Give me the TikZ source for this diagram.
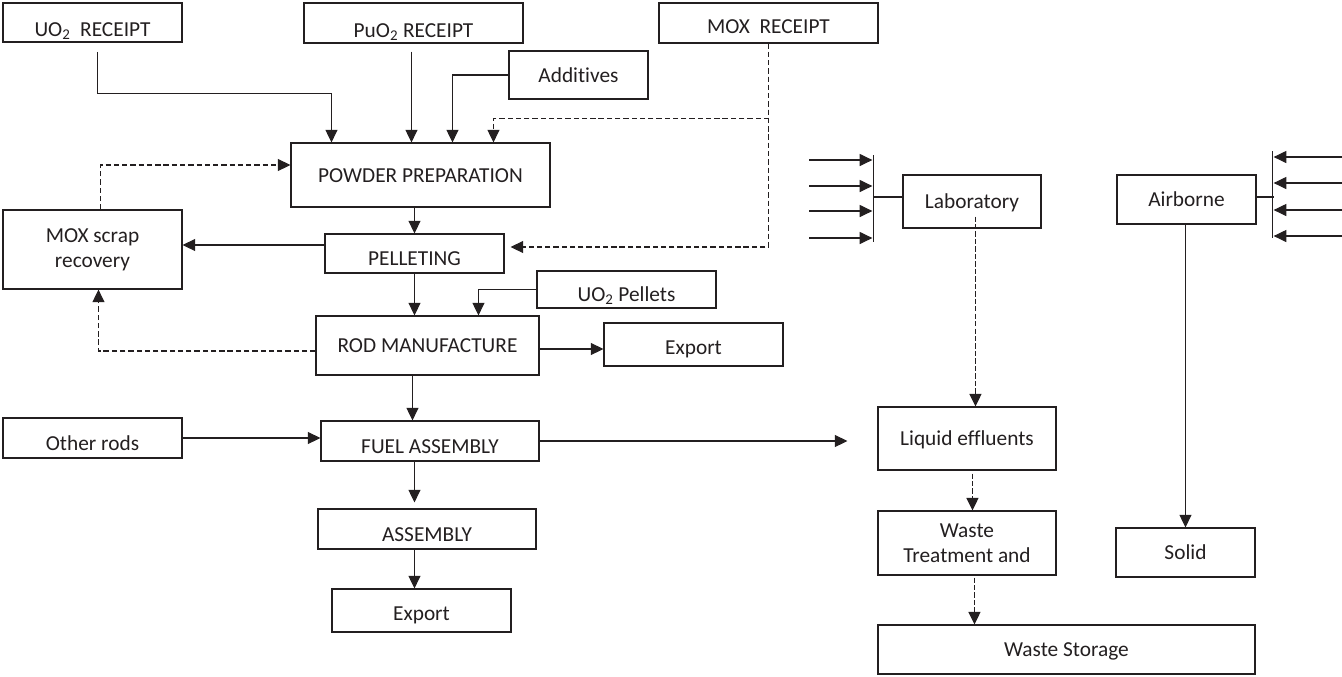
\documentclass[tikz,border=0pt]{standalone}
\usepackage{fontspec}
\setmainfont{Carlito}[Ligatures=NoCommon]
\usepackage{tikz}
\usetikzlibrary{arrows.meta,calc,positioning}
\definecolor{Ink}{HTML}{231F20}

\begin{document}
\begin{tikzpicture}[x=0.75pt, y=-0.75pt, >={Triangle[length=9.5pt,width=9pt]},
    cell/.style n args={4}{minimum width={(#3-#1)*0.75pt}, minimum height={(#4-#2)*0.75pt}, at={(0.5*#1+0.5*#3, 0.5*#2+0.5*#4)}},
    base/.style={draw=Ink, line width=0.8pt, inner sep=0pt, text=Ink, font=\fontsize{16}{19}\selectfont},
    blk/.style={base, text height=11pt, text depth=0pt},
    blklow/.style={base, text height=21pt, text depth=3pt},
    blk2/.style={base, align=center},
    flow/.style={->, draw=Ink, line width=0.8pt},
    wire/.style={draw=Ink, line width=0.8pt},
    dflow/.style={flow, dash pattern=on 4pt off 2.2pt},
    bflow/.style={flow, line width=1.2pt, dash pattern=on 4pt off 1.6pt},
    bar/.style={fill=Ink, inner sep=0pt, minimum width=1.3pt}]
    \useasboundingbox (0,0) rectangle (1342,676);

    % receipts and feeds
    \node[blklow, text height=24pt, cell={3}{3}{182}{42}] (uo2) {UO\textsubscript{2}\ \ RECEIPT};
    \node[blklow, text height=24pt, cell={304}{3}{523}{43}] (puo2) {PuO\textsubscript{2} RECEIPT};
    \node[blk, cell={509}{51}{648}{99}] (add) {Additives};
    \node[blklow, text height=18pt, cell={659}{3}{878}{43}] (mox) {MOX\ \ RECEIPT};

    % main line
    \node[blk, cell={291}{143}{550}{207}] (pow) {POWDER PREPARATION};
    \node[blk2, cell={3}{210}{182}{289}] (scrap) {MOX scrap\\recovery};
    \node[blklow, cell={325}{234}{504}{273}] (pel) {PELLETING};
    \node[blklow, cell={537}{271}{716}{308}] (pell) {UO\textsubscript{2} Pellets};
    \node[blk, cell={316}{316}{539}{375}] (rod) {ROD MANUFACTURE};
    \node[blklow, text height=18pt, cell={604}{323}{783}{366}] (exp1) {Export};
    \node[blklow, cell={3}{418}{182}{458}] (other) {Other rods};
    \node[blklow, cell={321}{421}{539}{461}] (fuel) {FUEL ASSEMBLY};
    \node[blklow, cell={318}{509}{536}{549}] (asm) {ASSEMBLY};
    \node[blklow, text height=18pt, cell={332}{589}{511}{632}] (exp2) {Export};

    % waste side
    \node[blk, cell={903}{175}{1041}{228}] (lab) {Laboratory};
    \node[blk, cell={1117}{175}{1256}{224}] (air) {Airborne};
    \node[blk, cell={878}{407}{1056}{470}] (liq) {Liquid effluents};
    \node[blk2, cell={878}{511}{1056}{575}] (wtr) {Waste\\Treatment and};
    \node[blk, cell={1116}{528}{1255}{577}] (sol) {Solid};
    \node[blk, cell={878}{625}{1255}{674}] (wst) {Waste Storage};
    \node[bar, minimum height=65pt] (lbar) at (873.5,198.5) {};
    \node[bar, minimum height=65pt] (rbar) at (1272.5,194.5) {};

    % feeds into powder preparation
    \draw[flow, shorten <=7pt] ($(uo2.south west)+(95,0)$) -- ++(0,51) -| ($(pow.north west)+(41,0)$);
    \draw[flow, shorten <=6pt] ($(puo2.south west)+(108,0)$) -- ($(pow.north west)+(121,0)$);
    \draw[flow] (add.west) -| ($(pow.north west)+(162,0)$);
    \draw[dflow] (mox.south) -- ++(0,75) -| ($(pow.north west)+(203,0)$);
    \draw[dflow] (mox.south) |- ($(pel.east)+(6,-6.5)$);

    % pellets, rods, assembly
    \draw[flow] (pel.north |- pow.south) -- (pel.north);
    \draw[flow] ($(pel.west)+(0,-8.5)$) -- ($(scrap.east)+(0,-4.5)$);
    \draw[dflow] ($(scrap.north west)+(98,0)$) |- ($(pow.west)+(0,-10)$);
    \draw[flow] (pel.south) -- (pel.south |- rod.north);
    \draw[flow] (pell.west) -| ($(rod.north west)+(163,0)$);
    \draw[dflow] ($(rod.west)+(0,5.5)$) -| ($(scrap.south west)+(96,0)$);
    \draw[flow] ($(rod.east)+(0,3.5)$) -- ($(exp1.west)+(0,4.5)$);
    \draw[flow] ($(rod.south west)+(97,0)$) -- ($(fuel.north west)+(92,0)$);
    \draw[flow] (other.east) -- (fuel.west |- other.east);
    \draw[flow, shorten >=22.5pt] (fuel.east) -- (liq.west |- fuel.east);
    \draw[flow, shorten >=4.5pt] ($(fuel.south west)+(94,0)$) -- ($(asm.north west)+(97,0)$);
    \draw[flow] ($(asm.south west)+(97,0)$) -- ($(exp2.north west)+(83,0)$);

    % waste streams
    \foreach \y [count=\i] in {160,186,211,238} {
      \coordinate (labin\i) at (809,\y);
      \draw[flow] (labin\i) -- (labin\i -| lbar.west);
    }
    \foreach \y [count=\i] in {157,183,210,236} {
      \coordinate (airin\i) at (1342,\y);
      \draw[flow] (airin\i) -- (airin\i -| rbar.east);
    }
    \draw[wire] ($(lab.west)+(0,-4.5)$) -- ($(lbar.center)+(0,-1.5)$);
    \draw[wire] ($(air.east)+(0,-2.5)$) -- ($(rbar.east)+(0,2.5)$);
    \draw[bflow] ($(lab.south west)+(73,-12)$) -- ($(liq.north west)+(98,0)$);
    \draw[bflow] ($(liq.south west)+(95,3)$) -- ($(wtr.north west)+(95,0)$);
    \draw[bflow] ($(wtr.south west)+(97,2)$) -- ($(wst.north west)+(97,0)$);
    \draw[flow] ($(air.south west)+(69,0)$) -- ($(sol.north west)+(70,0)$);
  \end{tikzpicture}
\end{document}
